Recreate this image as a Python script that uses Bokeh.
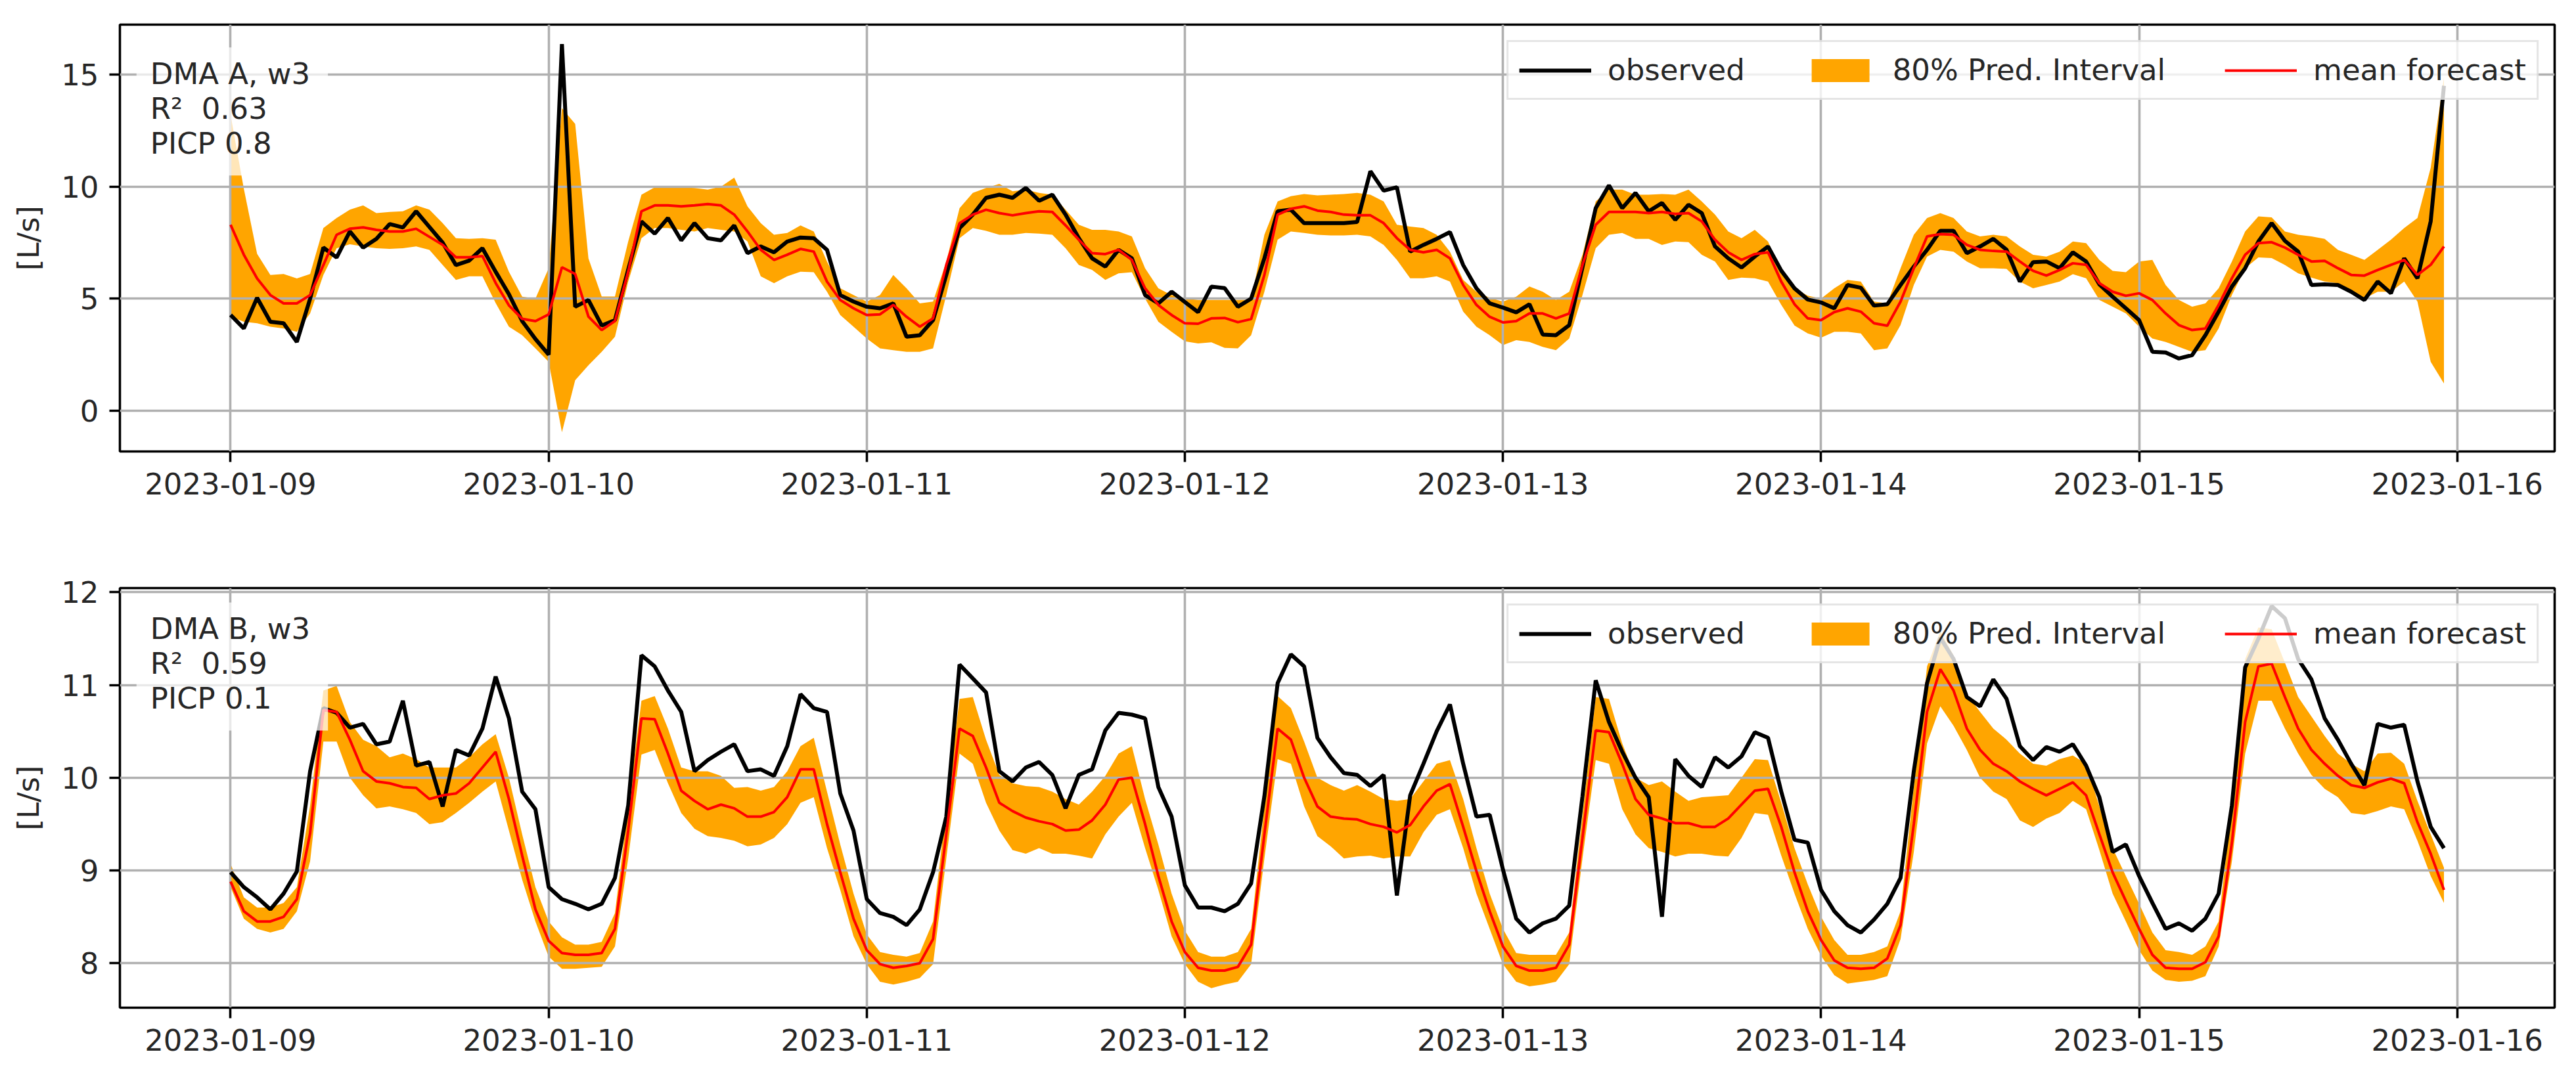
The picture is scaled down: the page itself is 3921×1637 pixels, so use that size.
import pandas as pd
from bokeh.plotting import figure
from bokeh.models import (Range1d, FixedTicker, DatetimeTickFormatter, Legend,
                          LegendItem, Label, ColumnDataSource)
from bokeh.layouts import column
from bokeh.embed import file_html
from bokeh.resources import INLINE

# ---------------- data ----------------
time_index = pd.date_range("2023-01-09 00:00", periods=168, freq="h")
day_ticks = pd.date_range("2023-01-09", "2023-01-16", freq="D")

obs_a = [4.27, 3.67, 5.04, 3.97, 3.9, 3.07, 5.0, 7.28, 6.84, 8.0, 7.28, 7.67, 8.33, 8.18, 8.9, 8.2, 7.5, 6.5, 6.7, 7.25, 6.2, 5.2, 4.0, 3.2,
         2.5, 16.36, 4.64, 4.94, 3.8, 4.04, 6.3, 8.45, 7.9, 8.6, 7.6, 8.37, 7.7, 7.6, 8.27, 7.03, 7.33, 7.07, 7.55, 7.73, 7.7, 7.18, 5.16, 4.87,
         4.64, 4.57, 4.79, 3.3, 3.37, 4.04, 6.06, 8.15, 8.75, 9.5, 9.64, 9.5, 9.94, 9.37, 9.64, 8.75, 7.7, 6.8, 6.43, 7.18, 6.8, 5.16, 4.79, 5.31,
         4.85, 4.4, 5.54, 5.47, 4.64, 5.0, 6.8, 8.9, 8.97, 8.37, 8.37, 8.37, 8.37, 8.42, 10.69, 9.82, 9.97, 7.1, 7.4, 7.67, 7.97, 6.5, 5.46, 4.79,
         4.6, 4.39, 4.75, 3.4, 3.37, 3.82, 6.4, 9.04, 10.06, 9.04, 9.72, 8.9, 9.27, 8.52, 9.19, 8.82, 7.33, 6.8, 6.39, 6.88, 7.33, 6.25, 5.46, 4.96,
         4.83, 4.57, 5.61, 5.49, 4.69, 4.75, 5.61, 6.43, 7.18, 8.03, 8.03, 7.03, 7.33, 7.67, 7.18, 5.76, 6.63, 6.66, 6.36, 7.07, 6.66, 5.64, 5.09, 4.57,
         4.04, 2.63, 2.6, 2.33, 2.48, 3.37, 4.42, 5.54, 6.36, 7.55, 8.37, 7.58, 7.1, 5.61, 5.64, 5.61, 5.31, 4.94, 5.76, 5.24, 6.8, 5.91, 8.45, 14.5]

mean_a = [8.3, 6.96, 5.9, 5.16, 4.79, 4.79, 5.16, 6.5, 7.85, 8.12, 8.18, 8.07, 8.0, 8.0, 8.12, 7.76, 7.4, 6.85, 6.85, 6.9, 5.7, 4.7, 4.1, 4.0,
          4.3, 6.4, 6.1, 4.2, 3.6, 4.0, 6.2, 8.9, 9.16, 9.16, 9.12, 9.16, 9.22, 9.16, 8.75, 8.0, 7.18, 6.73, 6.96, 7.22, 7.1, 5.76, 4.94, 4.57,
          4.27, 4.3, 4.72, 4.19, 3.75, 4.12, 6.5, 8.37, 8.75, 8.97, 8.82, 8.72, 8.82, 8.9, 8.87, 8.27, 7.63, 7.03, 6.99, 7.18, 6.73, 5.46, 4.72, 4.27,
          3.9, 3.88, 4.12, 4.14, 3.95, 4.09, 6.06, 8.75, 9.01, 9.12, 8.93, 8.87, 8.75, 8.72, 8.72, 8.37, 7.7, 7.18, 7.07, 7.18, 6.8, 5.61, 4.72, 4.19,
          3.94, 4.0, 4.34, 4.34, 4.12, 4.34, 6.5, 8.3, 8.87, 8.87, 8.87, 8.82, 8.87, 8.78, 8.82, 8.45, 7.63, 7.07, 6.73, 6.99, 7.07, 5.76, 4.75, 4.12,
          4.04, 4.4, 4.57, 4.42, 3.9, 3.79, 4.87, 6.36, 7.78, 7.88, 7.85, 7.4, 7.18, 7.13, 7.1, 6.66, 6.24, 6.03, 6.28, 6.58, 6.51, 5.69, 5.31, 5.13,
          5.24, 4.94, 4.34, 3.82, 3.6, 3.67, 4.72, 5.91, 6.96, 7.48, 7.52, 7.28, 6.96, 6.66, 6.69, 6.36, 6.06, 6.03, 6.28, 6.51, 6.73, 6.06, 6.51, 7.33]

upper_a = [13.2, 9.9, 7.0, 6.06, 6.1, 5.9, 6.1, 8.15, 8.6, 8.97, 9.16, 8.82, 8.87, 8.9, 9.16, 8.97, 8.37, 7.7, 7.67, 7.7, 7.63, 6.2, 5.09, 5.0,
           6.36, 13.5, 12.8, 6.8, 5.1, 5.1, 7.55, 9.64, 9.97, 9.97, 9.97, 9.94, 9.87, 10.0, 10.4, 9.12, 8.37, 7.85, 7.93, 8.27, 8.0, 6.66, 5.46, 5.16,
           4.87, 5.16, 6.06, 5.46, 4.79, 4.87, 6.66, 9.04, 9.72, 9.94, 10.12, 9.79, 9.87, 9.72, 9.64, 8.97, 8.3, 8.07, 8.07, 8.0, 7.78, 6.36, 5.46, 5.16,
           5.0, 4.94, 4.94, 4.94, 4.94, 4.94, 7.85, 9.34, 9.57, 9.67, 9.61, 9.64, 9.67, 9.72, 9.64, 9.34, 8.3, 8.22, 8.15, 7.85, 7.1, 5.84, 5.31, 5.04,
           4.87, 5.09, 5.54, 5.31, 4.94, 5.31, 6.96, 9.34, 9.87, 9.87, 9.64, 9.64, 9.67, 9.64, 9.87, 9.34, 8.75, 8.0, 7.7, 8.07, 7.55, 6.21, 5.46, 5.13,
           5.0, 5.46, 5.84, 5.76, 4.87, 4.79, 6.36, 7.85, 8.6, 8.82, 8.6, 8.0, 7.78, 7.85, 7.78, 7.33, 6.96, 6.88, 7.1, 7.55, 7.48, 6.73, 6.24, 6.18,
           6.66, 6.73, 5.61, 4.94, 4.64, 4.79, 5.46, 6.66, 8.0, 8.67, 8.63, 8.0, 7.85, 7.78, 7.67, 7.18, 6.96, 6.73, 7.18, 7.63, 8.15, 8.6, 10.84, 14.87]

lower_a = [4.2, 3.97, 3.9, 3.75, 3.67, 3.52, 4.34, 6.06, 7.25, 7.43, 7.33, 7.25, 7.22, 7.25, 7.33, 7.18, 6.5, 5.84, 6.0, 6.0, 4.8, 3.75, 3.37, 2.78,
           2.18, -0.96, 1.36, 2.03, 2.63, 3.3, 5.76, 7.7, 8.15, 8.15, 8.07, 8.0, 8.15, 8.07, 8.0, 7.55, 6.0, 5.69, 6.0, 6.2, 6.18, 5.31, 4.27, 3.75,
           3.22, 2.78, 2.7, 2.63, 2.63, 2.78, 5.16, 7.7, 8.15, 8.03, 7.85, 7.85, 7.93, 7.9, 7.85, 7.25, 6.5, 6.28, 5.84, 6.13, 6.18, 5.0, 3.97, 3.52,
           3.1, 3.0, 3.05, 2.8, 2.78, 3.37, 5.31, 7.63, 8.0, 7.93, 7.85, 7.82, 7.82, 7.85, 7.78, 7.4, 6.73, 5.91, 5.91, 6.0, 5.76, 4.42, 3.75, 3.37,
           2.93, 3.15, 3.07, 2.85, 2.7, 3.22, 5.16, 7.25, 7.85, 7.93, 7.67, 7.67, 7.4, 7.55, 7.52, 6.96, 6.66, 5.84, 5.94, 5.91, 5.76, 4.72, 3.8, 3.45,
           3.26, 3.52, 3.52, 3.45, 2.7, 2.78, 3.82, 5.61, 6.88, 7.18, 7.1, 6.66, 6.36, 6.36, 6.33, 5.76, 5.46, 5.61, 5.76, 6.09, 5.91, 4.94, 4.64, 4.34,
           3.75, 3.22, 3.07, 2.85, 2.63, 2.7, 3.67, 5.16, 6.36, 6.84, 6.81, 6.5, 6.13, 5.94, 5.76, 5.69, 5.31, 5.01, 5.31, 5.31, 5.76, 4.87, 2.18, 1.21]

obs_b = [8.98, 8.82, 8.71, 8.58, 8.75, 8.99, 10.07, 10.75, 10.7, 10.54, 10.58, 10.36, 10.39, 10.83, 10.13, 10.17, 9.69, 10.3, 10.24, 10.53, 11.09, 10.64, 9.85, 9.66,
         8.82, 8.69, 8.64, 8.58, 8.64, 8.92, 9.7, 11.32, 11.2, 10.94, 10.71, 10.07, 10.19, 10.28, 10.36, 10.07, 10.09, 10.02, 10.34, 10.9, 10.75, 10.71, 9.83, 9.43,
         8.69, 8.54, 8.5, 8.41, 8.58, 8.98, 9.58, 11.22, 11.07, 10.92, 10.07, 9.96, 10.11, 10.17, 10.03, 9.67, 10.03, 10.09, 10.51, 10.7, 10.68, 10.64, 9.9, 9.58,
         8.84, 8.6, 8.6, 8.56, 8.64, 8.86, 9.8, 11.02, 11.33, 11.2, 10.43, 10.22, 10.05, 10.03, 9.91, 10.03, 8.73, 9.81, 10.15, 10.5, 10.79, 10.15, 9.58, 9.6,
         9.01, 8.48, 8.33, 8.43, 8.48, 8.62, 9.8, 11.05, 10.6, 10.28, 10.0, 9.79, 8.5, 10.2, 10.02, 9.9, 10.22, 10.11, 10.23, 10.49, 10.43, 9.85, 9.33, 9.3,
         8.79, 8.56, 8.41, 8.33, 8.47, 8.64, 8.92, 10.07, 11.02, 11.51, 11.28, 10.87, 10.77, 11.06, 10.85, 10.34, 10.19, 10.33, 10.28, 10.36, 10.13, 9.79, 9.2, 9.28,
         8.94, 8.65, 8.37, 8.43, 8.35, 8.48, 8.75, 9.7, 11.19, 11.5, 11.85, 11.72, 11.28, 11.06, 10.64, 10.41, 10.15, 9.92, 10.58, 10.54, 10.57, 9.96, 9.47, 9.24]

mean_b = [8.88, 8.56, 8.45, 8.45, 8.5, 8.69, 9.4, 10.73, 10.71, 10.41, 10.07, 9.96, 9.94, 9.9, 9.89, 9.77, 9.81, 9.83, 9.94, 10.11, 10.28, 9.77, 9.16, 8.58,
          8.24, 8.11, 8.09, 8.09, 8.11, 8.37, 9.43, 10.64, 10.63, 10.26, 9.86, 9.75, 9.66, 9.71, 9.67, 9.58, 9.58, 9.63, 9.79, 10.09, 10.09, 9.5, 8.98, 8.48,
          8.14, 7.99, 7.95, 7.97, 8.0, 8.26, 9.39, 10.53, 10.45, 10.11, 9.73, 9.64, 9.57, 9.53, 9.5, 9.43, 9.44, 9.54, 9.71, 9.98, 10.0, 9.5, 8.94, 8.45,
          8.12, 7.95, 7.92, 7.92, 7.96, 8.2, 9.39, 10.53, 10.41, 10.0, 9.69, 9.58, 9.56, 9.55, 9.5, 9.47, 9.41, 9.49, 9.69, 9.86, 9.93, 9.47, 8.99, 8.56,
          8.18, 7.97, 7.92, 7.92, 7.95, 8.2, 9.35, 10.51, 10.49, 10.15, 9.77, 9.6, 9.56, 9.51, 9.51, 9.47, 9.47, 9.56, 9.71, 9.86, 9.88, 9.47, 8.98, 8.56,
          8.25, 8.03, 7.95, 7.94, 7.95, 8.05, 8.41, 9.5, 10.71, 11.17, 10.94, 10.53, 10.3, 10.15, 10.07, 9.96, 9.88, 9.81, 9.88, 9.95, 9.81, 9.39, 8.98, 8.67,
          8.37, 8.09, 7.95, 7.94, 7.94, 8.01, 8.29, 9.3, 10.6, 11.2, 11.23, 10.87, 10.53, 10.3, 10.15, 10.02, 9.92, 9.89, 9.95, 9.99, 9.94, 9.52, 9.18, 8.79]

upper_b = [9.07, 8.71, 8.6, 8.6, 8.65, 8.82, 9.7, 10.94, 10.99, 10.6, 10.41, 10.34, 10.22, 10.26, 10.2, 10.11, 10.11, 10.11, 10.22, 10.36, 10.47, 10.0, 9.39, 8.82,
           8.45, 8.28, 8.2, 8.2, 8.23, 8.54, 9.69, 10.83, 10.88, 10.53, 10.11, 10.07, 10.07, 10.02, 9.89, 9.9, 9.86, 9.9, 10.07, 10.34, 10.43, 9.85, 9.28, 8.75,
           8.31, 8.12, 8.09, 8.07, 8.11, 8.45, 9.69, 10.85, 10.87, 10.41, 10.03, 9.94, 9.91, 9.9, 9.85, 9.77, 9.71, 9.85, 10.02, 10.26, 10.34, 9.77, 9.28, 8.75,
           8.35, 8.12, 8.07, 8.07, 8.12, 8.37, 9.69, 10.88, 10.75, 10.39, 10.0, 9.92, 9.86, 9.92, 9.85, 9.77, 9.75, 9.77, 9.96, 10.15, 10.19, 9.77, 9.24, 8.75,
           8.37, 8.11, 8.09, 8.09, 8.09, 8.33, 9.6, 10.87, 10.85, 10.37, 10.0, 9.92, 9.96, 9.85, 9.75, 9.79, 9.8, 9.81, 10.0, 10.2, 10.19, 9.73, 9.24, 8.85,
           8.5, 8.25, 8.09, 8.09, 8.12, 8.18, 8.56, 9.9, 11.2, 11.58, 11.32, 10.9, 10.71, 10.53, 10.41, 10.26, 10.15, 10.13, 10.2, 10.24, 10.15, 9.69, 9.24, 8.94,
           8.64, 8.33, 8.14, 8.12, 8.09, 8.18, 8.45, 9.7, 11.28, 11.62, 11.6, 11.24, 10.87, 10.66, 10.45, 10.26, 10.15, 10.07, 10.26, 10.27, 10.15, 9.75, 9.39, 9.03]

lower_b = [8.82, 8.48, 8.37, 8.33, 8.37, 8.56, 9.1, 10.39, 10.39, 10.0, 9.81, 9.67, 9.69, 9.66, 9.62, 9.5, 9.52, 9.62, 9.73, 9.85, 9.96, 9.43, 8.9, 8.45,
           8.07, 7.94, 7.94, 7.95, 7.96, 8.18, 9.13, 10.25, 10.3, 9.94, 9.62, 9.45, 9.37, 9.35, 9.32, 9.26, 9.28, 9.35, 9.5, 9.73, 9.79, 9.24, 8.79, 8.29,
           7.99, 7.8, 7.77, 7.8, 7.84, 7.99, 9.13, 10.26, 10.15, 9.73, 9.43, 9.22, 9.18, 9.24, 9.18, 9.18, 9.16, 9.13, 9.39, 9.58, 9.73, 9.24, 8.79, 8.29,
           7.99, 7.8, 7.73, 7.77, 7.8, 7.99, 9.13, 10.2, 10.15, 9.69, 9.37, 9.26, 9.13, 9.15, 9.16, 9.13, 9.15, 9.15, 9.41, 9.6, 9.66, 9.24, 8.75, 8.37,
           7.99, 7.8, 7.75, 7.77, 7.8, 7.99, 9.13, 10.19, 10.15, 9.66, 9.39, 9.24, 9.2, 9.15, 9.18, 9.18, 9.16, 9.15, 9.35, 9.62, 9.6, 9.16, 8.75, 8.37,
           8.08, 7.87, 7.78, 7.8, 7.82, 7.86, 8.26, 9.2, 10.37, 10.77, 10.56, 10.3, 10.0, 9.85, 9.77, 9.54, 9.47, 9.56, 9.62, 9.75, 9.66, 9.22, 8.75, 8.45,
           8.14, 7.92, 7.82, 7.8, 7.81, 7.86, 8.18, 9.1, 10.26, 10.83, 10.83, 10.53, 10.26, 10.03, 9.88, 9.79, 9.62, 9.6, 9.64, 9.69, 9.66, 9.32, 8.94, 8.65]

NB = "\u00a0"
panel_titles = ["DMA A, w3\nR\u00b2" + NB * 2 + "0.63\nPICP 0.8",
                "DMA B, w3\nR\u00b2" + NB * 2 + "0.59\nPICP 0.1"]
yticks_a = [0, 5, 10, 15]
yticks_b = [8, 9, 10, 11, 12]
legend_labels = ["observed", "80% Pred. Interval", "mean forecast"]
y_label = "[L/s]"

FONT = "DejaVu Sans"
FS = "45px"
TXT = "#262626"


def ms(ts):
    return pd.Timestamp(ts).value / 1e6


margin = pd.Timedelta(days=0.348)
x_start = time_index[0] - margin
x_end = time_index[-1] + margin


def make_panel(obs, mean, lo, hi, y0, y1, yticks, title, title_y,
               height, top, bottom):
    src = ColumnDataSource(dict(t=time_index, obs=obs, mean=mean, lo=lo, hi=hi))
    p = figure(width=3921, height=height, x_axis_type="datetime",
               x_range=Range1d(x_start, x_end), y_range=Range1d(y0, y1),
               output_backend="svg", toolbar_location=None,
               min_border_left=182, min_border_right=33,
               min_border_top=top, min_border_bottom=bottom)
    p.background_fill_color = "white"
    p.border_fill_color = "white"
    p.outline_line_color = "black"
    p.outline_line_width = 3.6

    band = p.varea(x="t", y1="lo", y2="hi", source=src, fill_color="orange",
                   fill_alpha=1.0, level="image")
    obs_r = p.line(x="t", y="obs", source=src, line_color="black", line_width=6)
    mean_r = p.line(x="t", y="mean", source=src, line_color="red", line_width=4)

    p.xaxis.ticker = FixedTicker(ticks=[ms(d) for d in day_ticks])
    fmt = "%Y-%m-%d"
    p.xaxis.formatter = DatetimeTickFormatter(
        microseconds=fmt, milliseconds=fmt, seconds=fmt, minsec=fmt,
        minutes=fmt, hourmin=fmt, hours=fmt, days=fmt, months=fmt, years=fmt)
    p.yaxis.ticker = FixedTicker(ticks=yticks)
    p.yaxis.axis_label = y_label

    for ax in (p.xaxis[0], p.yaxis[0]):
        ax.axis_line_color = None
        ax.major_tick_line_color = "black"
        ax.major_tick_line_width = 3.6
        ax.major_tick_out = 16
        ax.major_tick_in = 0
        ax.minor_tick_line_color = None
        ax.major_label_text_font = FONT
        ax.major_label_text_font_size = FS
        ax.major_label_text_color = TXT
        ax.major_label_standoff = 16
        ax.axis_label_text_font = FONT
        ax.axis_label_text_font_size = FS
        ax.axis_label_text_font_style = "normal"
        ax.axis_label_text_color = TXT
        ax.axis_label_standoff = 20

    for g in (p.xgrid[0], p.ygrid[0]):
        g.grid_line_color = "#b0b0b0"
        g.grid_line_width = 3.6

    label = Label(x=ms(time_index[0] - pd.Timedelta(hours=7.1)), y=title_y,
                  text=title, text_font=FONT, text_font_size=FS,
                  text_color=TXT, text_baseline="top", text_align="left",
                  text_line_height=1.0,
                  background_fill_color="white", background_fill_alpha=0.72,
                  padding=dict(left=21, right=27, top=14, bottom=22))
    p.add_layout(label)

    legend = Legend(items=[LegendItem(label=legend_labels[0], renderers=[obs_r]),
                           LegendItem(label=legend_labels[1], renderers=[band]),
                           LegendItem(label=legend_labels[2], renderers=[mean_r])],
                    orientation="horizontal", location="top_right",
                    margin=24, padding=16, spacing=90,
                    glyph_width=110, glyph_height=44, label_standoff=25,
                    label_text_font=FONT, label_text_font_size=FS,
                    label_text_color=TXT,
                    border_line_color="#cccccc", border_line_width=3,
                    background_fill_color="white", background_fill_alpha=0.8)
    p.add_layout(legend)
    return p


p1 = make_panel(obs_a, mean_a, lower_a, upper_a, -1.82, 17.23, yticks_a,
                panel_titles[0], 16.21, 800, 37, 113)
p2 = make_panel(obs_b, mean_b, lower_b, upper_b, 7.52, 12.045, yticks_b,
                panel_titles[1], 11.89, 837, 95, 103)

layout = column(p1, p2, spacing=0)
open("out.html", "w").write(file_html(layout, INLINE))
